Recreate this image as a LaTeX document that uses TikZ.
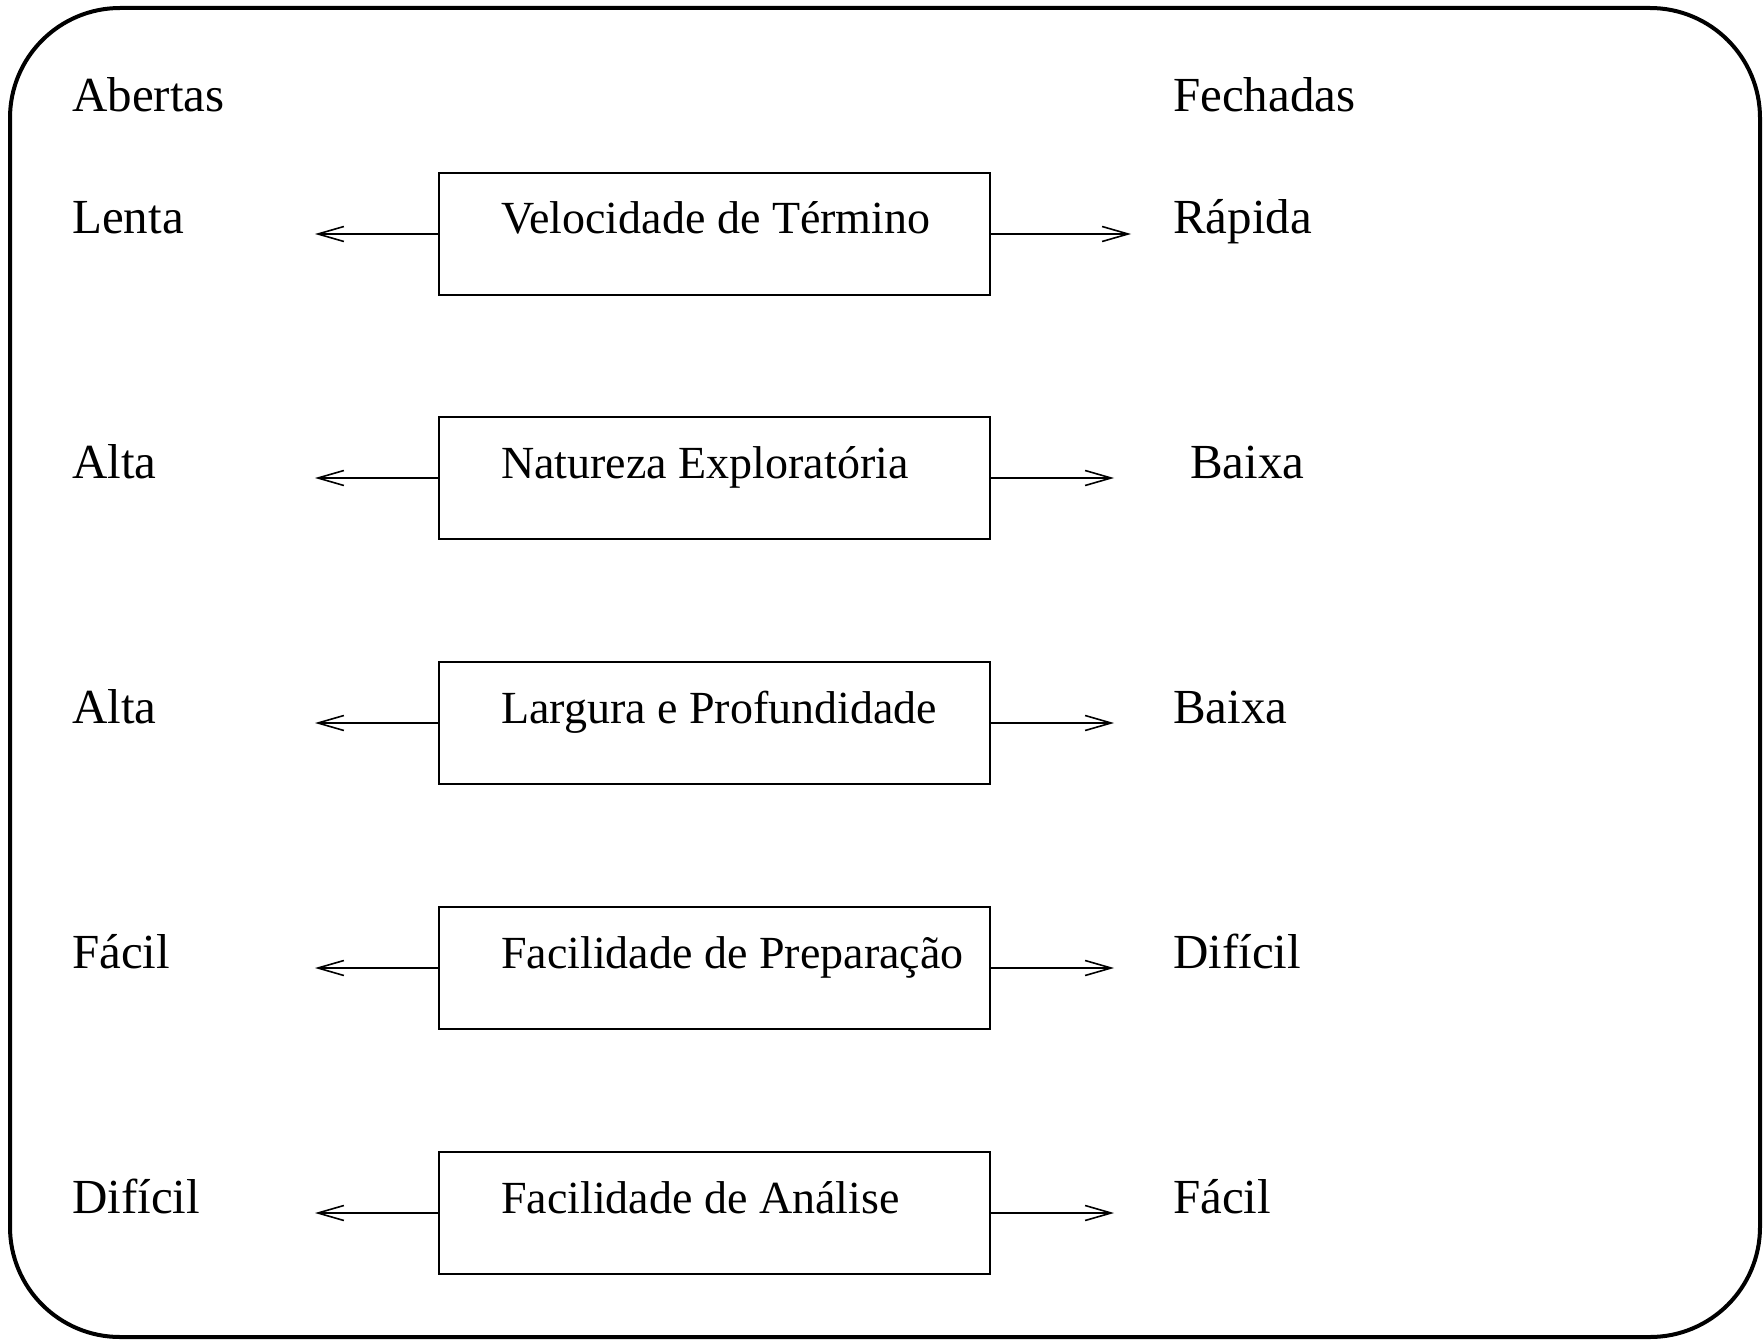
\documentclass[tikz,border=0pt]{standalone}
\usepackage{fontspec}
\setmainfont{Liberation Serif}
\usetikzlibrary{arrows.meta}
\begin{document}
\begin{tikzpicture}[x=1pt,y=-1pt,
  txt/.style={anchor=base west,inner sep=0pt,font=\fontsize{46}{55}\selectfont},
  side/.style={anchor=base west,inner sep=0pt,font=\fontsize{49}{58}\selectfont},
  boxnode/.style={draw,line width=1.5pt,minimum width=551pt,minimum height=122pt,inner sep=0pt},
  arr/.style={line width=1.6pt,-{Straight Barb[length=26pt,width=15pt,line width=1.6pt]}}]
\useasboundingbox (0,0) rectangle (1764,1340);
\draw[line width=4pt,rounded corners=110pt] (10,8) rectangle (1760,1337);
\node[side] (ab) at (72,112) {Abertas};
\node[side] (fe) at (1173,112) {Fechadas};
% rows
\foreach \i/\y/\l/\m/\r/\rx/\ax in {1/234/Lenta/Velocidade de Término/Rápida/1173/1131,
  2/478/Alta/Natureza Exploratória/Baixa/1190/1114,
  3/723/Alta/Largura e Profundidade/Baixa/1173/1114,
  4/968/Fácil/Facilidade de Preparação/Difícil/1173/1114,
  5/1213/Difícil/Facilidade de Análise/Fácil/1173/1114}{
  \node[boxnode] (b\i) at (714.5,\y) {};
  \node[txt] (m\i) at (501,\y) {\m};
  \node[side] (l\i) at (72,\y) {\l};
  \node[side] (r\i) at (\rx,\y) {\r};
  \coordinate (la\i) at (315,\y);
  \coordinate (ra\i) at (\ax,\y);
  \draw[arr] (b\i.west) -- (la\i);
  \draw[arr] (b\i.east) -- (ra\i);
}
\end{tikzpicture}
\end{document}
